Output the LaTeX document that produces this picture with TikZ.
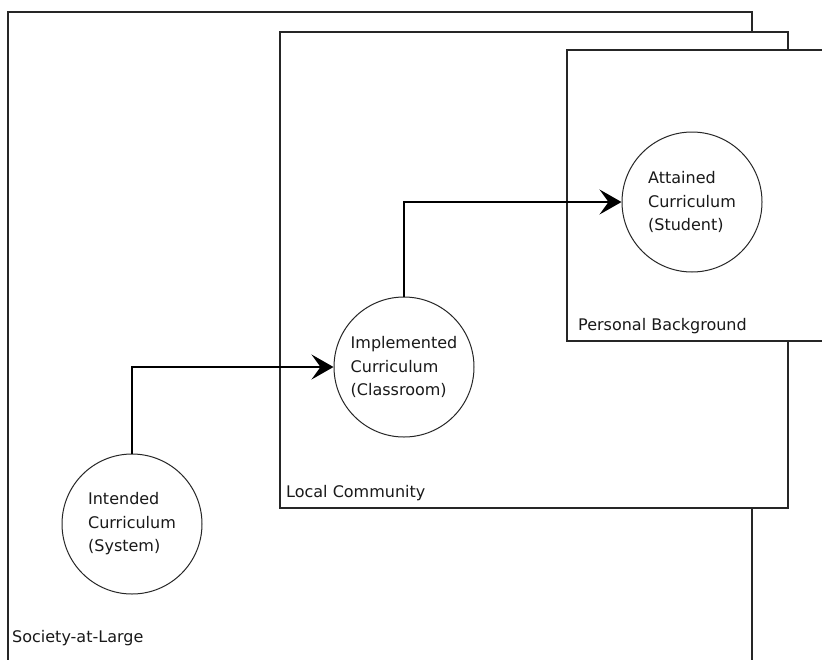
\documentclass[tikz,border=0pt]{standalone}
\usepackage{fontspec}
\setmainfont{DejaVu Sans}
\usetikzlibrary{arrows.meta}
\begin{document}
\begin{tikzpicture}[x=1pt,y=-1pt,
  frame/.style={draw=black!85, line width=1.6pt, fill=white},
  curric/.style={circle, draw=black!85, line width=1pt, minimum size=140pt,
    inner sep=0pt, align=left, fill=white, text=black!90,
    font=\fontsize{16}{23.5}\selectfont},
  area/.style={anchor=west, inner sep=0pt, text=black!90,
    font=\fontsize{16}{20}\selectfont},
  flow/.style={draw=black, line width=1.3pt,
    -{Stealth[length=22pt,width=25pt,inset=9pt]}}]
  \useasboundingbox (0,0) rectangle (822,659);
  \clip (0,0) rectangle (822,659);

  % nested contexts: society, community, student
  \coordinate (society) at (8,12);
  \coordinate (community) at (280,32);
  \coordinate (personal) at (567,50);
  \draw[frame] (8,680) -- (society) -- (752,12) -- (752,680);
  \draw[frame] (community) rectangle (788,508);
  \draw[frame] (personal) rectangle (840,341);

  \node[area] (societylbl) at (12,638) {Society-at-Large};
  \node[area] (communitylbl) at (286,493) {Local Community};
  \node[area] (personallbl) at (578,326) {Personal Background};

  % the three curricula
  \node[curric] (intended) at (132,524) {Intended\\Curriculum\\(System)};
  \node[curric] (implemented) at (404,367) {Implemented\\Curriculum\\(Classroom)};
  \node[curric] (attained) at (692,202) {Attained\\Curriculum\\(Student)};

  \draw[flow] (intended.north) |- (implemented.west);
  \draw[flow] (implemented.north) |- (attained.west);
\end{tikzpicture}
\end{document}
